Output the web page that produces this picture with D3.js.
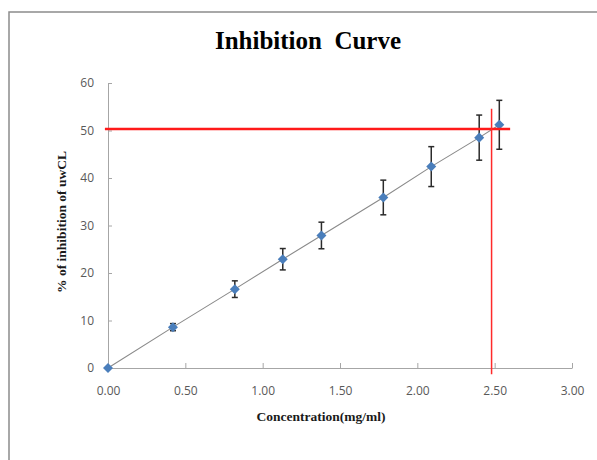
<!DOCTYPE html>
<html>
<head>
<meta charset="utf-8">
<script src="https://cdn.jsdelivr.net/npm/d3@7"></script>
<style>
  html, body { margin: 0; padding: 0; background: #fff; }
  svg { display: block; }
</style>
</head>
<body>
<svg id="chart" width="597" height="460"></svg>
<script>
const title = "Inhibition  Curve";
const xTitle = "Concentration(mg/ml)";
const yTitle = "% of inhibition of uwCL";

const concentration = [0, 0.42, 0.82, 1.13, 1.38, 1.78, 2.09, 2.40, 2.53];
const inhibition    = [0, 8.6, 16.6, 22.9, 27.9, 35.9, 42.4, 48.5, 51.2];
const errorValues   = [0, 0.75, 1.75, 2.25, 2.8, 3.65, 4.2, 4.75, 5.15];

const xTicks = [0, 0.5, 1, 1.5, 2, 2.5, 3];
const yTicks = [0, 10, 20, 30, 40, 50, 60];

// IC50 reference lines (value coordinates)
const ic50Y = 50.3;
const ic50X = 2.48;
const hLineX = [-0.02, 2.6];
const vLineY = [-1.3, 54.6];

const svg = d3.select("#chart");

// outer chart frame
svg.append("rect")
  .attr("x", 9).attr("y", 12)
  .attr("width", 620).attr("height", 480)
  .attr("fill", "#fff")
  .attr("stroke", "#8c8c8c")
  .attr("stroke-width", 1.5);

const x = d3.scaleLinear().domain([0, 3]).range([108, 572]);
const y = d3.scaleLinear().domain([0, 60]).range([368, 83]);

const axisColor = "#a6a6a6";
const labelColor = "#595959";

// x axis
const gx = svg.append("g").attr("transform", `translate(0,${y(0)})`)
  .call(d3.axisBottom(x).tickValues(xTicks).tickFormat(d3.format(".2f")).tickSizeInner(-5).tickSizeOuter(0).tickPadding(18));
gx.select(".domain").attr("stroke", axisColor);
gx.selectAll(".tick line").attr("stroke", axisColor);
gx.selectAll(".tick text").attr("fill", labelColor)
  .style("font-family", "'Open Sans', sans-serif").style("font-size", "12px");

// y axis
const gy = svg.append("g").attr("transform", `translate(${x(0)},0)`)
  .call(d3.axisLeft(y).tickValues(yTicks).tickFormat(d3.format("d")).tickSizeInner(-4).tickSizeOuter(0).tickPadding(14));
gy.select(".domain").attr("stroke", axisColor);
gy.selectAll(".tick line").attr("stroke", axisColor);
gy.selectAll(".tick text").attr("fill", labelColor)
  .style("font-family", "'Open Sans', sans-serif").style("font-size", "12px");

const pts = concentration.map((c, i) => ({ c, v: inhibition[i], e: errorValues[i] }));

// connecting line
svg.append("path")
  .datum(pts)
  .attr("fill", "none")
  .attr("stroke", "#8a8a8a")
  .attr("stroke-width", 1.1)
  .attr("d", d3.line().x(d => x(d.c)).y(d => y(d.v)));

// error bars
const eb = svg.append("g").attr("stroke", "#2b2b2b").attr("stroke-width", 1.5);
pts.filter(d => d.e > 0).forEach(d => {
  eb.append("line").attr("x1", x(d.c)).attr("x2", x(d.c)).attr("y1", y(d.v - d.e)).attr("y2", y(d.v + d.e));
  eb.append("line").attr("x1", x(d.c) - 3).attr("x2", x(d.c) + 3).attr("y1", y(d.v + d.e)).attr("y2", y(d.v + d.e));
  eb.append("line").attr("x1", x(d.c) - 3).attr("x2", x(d.c) + 3).attr("y1", y(d.v - d.e)).attr("y2", y(d.v - d.e));
});

// markers
svg.append("g").selectAll("path").data(pts).join("path")
  .attr("transform", d => `translate(${x(d.c)},${y(d.v)})`)
  .attr("d", d3.symbol().type(d3.symbolDiamond2).size(64))
  .attr("fill", "#4a7ebb");

// red IC50 lines
svg.append("line")
  .attr("x1", x(hLineX[0])).attr("x2", x(hLineX[1]))
  .attr("y1", y(ic50Y)).attr("y2", y(ic50Y))
  .attr("stroke", "#ff1a1a").attr("stroke-width", 2.5);
svg.append("line")
  .attr("x1", x(ic50X)).attr("x2", x(ic50X))
  .attr("y1", y(vLineY[0])).attr("y2", y(vLineY[1]))
  .attr("stroke", "#ff2a2a").attr("stroke-width", 1.5);

// titles
svg.append("text")
  .attr("x", 308).attr("y", 49)
  .attr("text-anchor", "middle")
  .style("font-family", "'Liberation Serif', 'Times New Roman', serif")
  .style("font-weight", "bold").style("font-size", "25px")
  .attr("fill", "#000")
  .style("white-space", "pre")
  .text(title);

svg.append("text")
  .attr("x", 321).attr("y", 421)
  .attr("text-anchor", "middle")
  .style("font-family", "'Liberation Serif', 'Times New Roman', serif")
  .style("font-weight", "bold").style("font-size", "13.5px")
  .attr("fill", "#1a1a1a")
  .text(xTitle);

svg.append("text")
  .attr("transform", "translate(66,222) rotate(-90)")
  .attr("text-anchor", "middle")
  .style("font-family", "'Liberation Serif', 'Times New Roman', serif")
  .style("font-weight", "bold").style("font-size", "13.5px")
  .attr("fill", "#1a1a1a")
  .text(yTitle);
</script>
</body>
</html>
